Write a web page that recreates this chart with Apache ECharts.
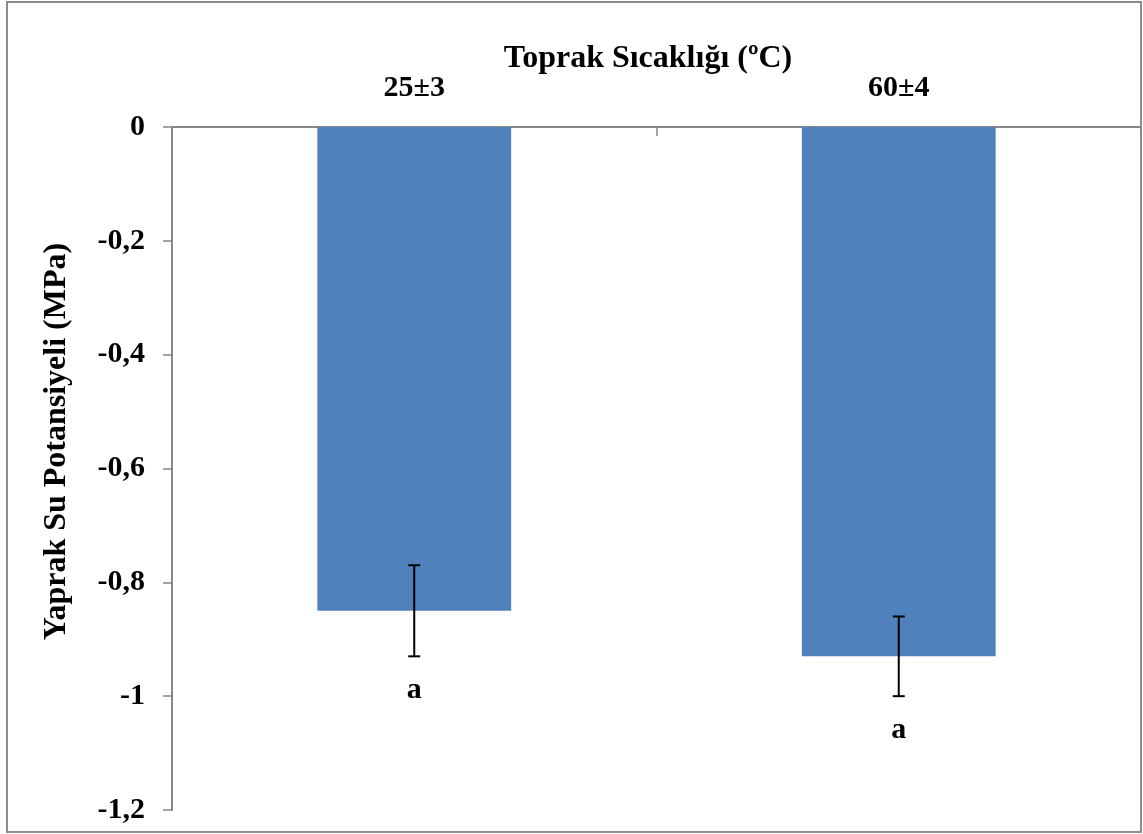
<!DOCTYPE html>
<html>
<head>
<meta charset="utf-8">
<script src="https://cdn.jsdelivr.net/npm/echarts@6/dist/echarts.min.js"></script>
<style>
  html, body { margin: 0; padding: 0; background: #ffffff; }
  #chart { width: 1143px; height: 834px; }
</style>
</head>
<body>
<div id="chart"></div>
<script>
// Soil temperature groups and leaf water potential (MPa)
const categories = ['25±3', '60±4'];
const values = [-0.85, -0.93];
const errors = [0.08, 0.07];
const letters = ['a', 'a'];

const yTicks = { min: -1.2, max: 0, interval: 0.2 };

const FONT = '"Liberation Serif", "Times New Roman", serif';
const AXIS_GREY = '#878787';

const chart = echarts.init(document.getElementById('chart'), null, { renderer: 'canvas' });

const errorData = values.map((v, i) => [i, v - errors[i], v + errors[i], letters[i]]);

chart.setOption({
  animation: false,
  backgroundColor: '#ffffff',
  title: {
    text: 'Toprak Sıcaklığı (ºC)',
    left: 643,
    top: 38,
    textAlign: 'center',
    textStyle: { fontFamily: FONT, fontWeight: 'bold', fontSize: 32, color: '#000' }
  },
  graphic: [{
    type: 'rect',
    shape: { x: 7, y: 2, width: 1134, height: 830 },
    style: { fill: 'none', stroke: '#8c8c8c', lineWidth: 2 },
    silent: true,
    z: -1
  }],
  grid: { left: 172, top: 127, right: 2, bottom: 24, containLabel: false },
  xAxis: {
    type: 'category',
    position: 'top',
    data: categories,
    axisLine: { show: true, onZero: false, lineStyle: { color: AXIS_GREY, width: 2 } },
    axisTick: { show: true, inside: true, length: 9, alignWithLabel: false, lineStyle: { color: AXIS_GREY, width: 1.5 } },
    axisLabel: { margin: 24, fontFamily: FONT, fontWeight: 'bold', fontSize: 30, color: '#000' },
    splitLine: { show: false }
  },
  yAxis: {
    type: 'value',
    min: yTicks.min,
    max: yTicks.max,
    interval: yTicks.interval,
    name: 'Yaprak Su Potansiyeli (MPa)',
    nameLocation: 'middle',
    nameGap: 99,
    nameRotate: 90,
    nameTextStyle: { fontFamily: FONT, fontWeight: 'bold', fontSize: 32, color: '#000', padding: [0, 0, 0, 54] },
    axisLine: { show: true, lineStyle: { color: AXIS_GREY, width: 2 } },
    axisTick: { show: true, inside: false, length: 9, lineStyle: { color: AXIS_GREY, width: 1.5 } },
    axisLabel: {
      margin: 27,
      fontFamily: FONT, fontWeight: 'bold', fontSize: 30, color: '#000',
      formatter: v => String(Number(v.toFixed(1))).replace('.', ',')
    },
    splitLine: { show: false }
  },
  series: [
    {
      type: 'bar',
      data: values,
      barWidth: '40%',
      itemStyle: { color: '#4F81BD' }
    },
    {
      type: 'custom',
      data: errorData,
      z: 10,
      renderItem: (params, api) => {
        const x = api.value(0);
        const lo = api.coord([x, api.value(1)]);
        const hi = api.coord([x, api.value(2)]);
        const cap = 6;
        return {
          type: 'group',
          children: [
            { type: 'line', shape: { x1: lo[0], y1: lo[1], x2: hi[0], y2: hi[1] }, style: { stroke: '#000', lineWidth: 2 } },
            { type: 'line', shape: { x1: lo[0] - cap, y1: lo[1], x2: lo[0] + cap, y2: lo[1] }, style: { stroke: '#000', lineWidth: 2 } },
            { type: 'line', shape: { x1: hi[0] - cap, y1: hi[1], x2: hi[0] + cap, y2: hi[1] }, style: { stroke: '#000', lineWidth: 2 } },
            {
              type: 'text',
              x: lo[0],
              y: lo[1] + 34,
              style: {
                text: api.value(3),
                fontFamily: FONT, fontWeight: 'bold', fontSize: 30, fill: '#000',
                align: 'center', verticalAlign: 'middle'
              }
            }
          ]
        };
      }
    }
  ]
});
</script>
</body>
</html>
